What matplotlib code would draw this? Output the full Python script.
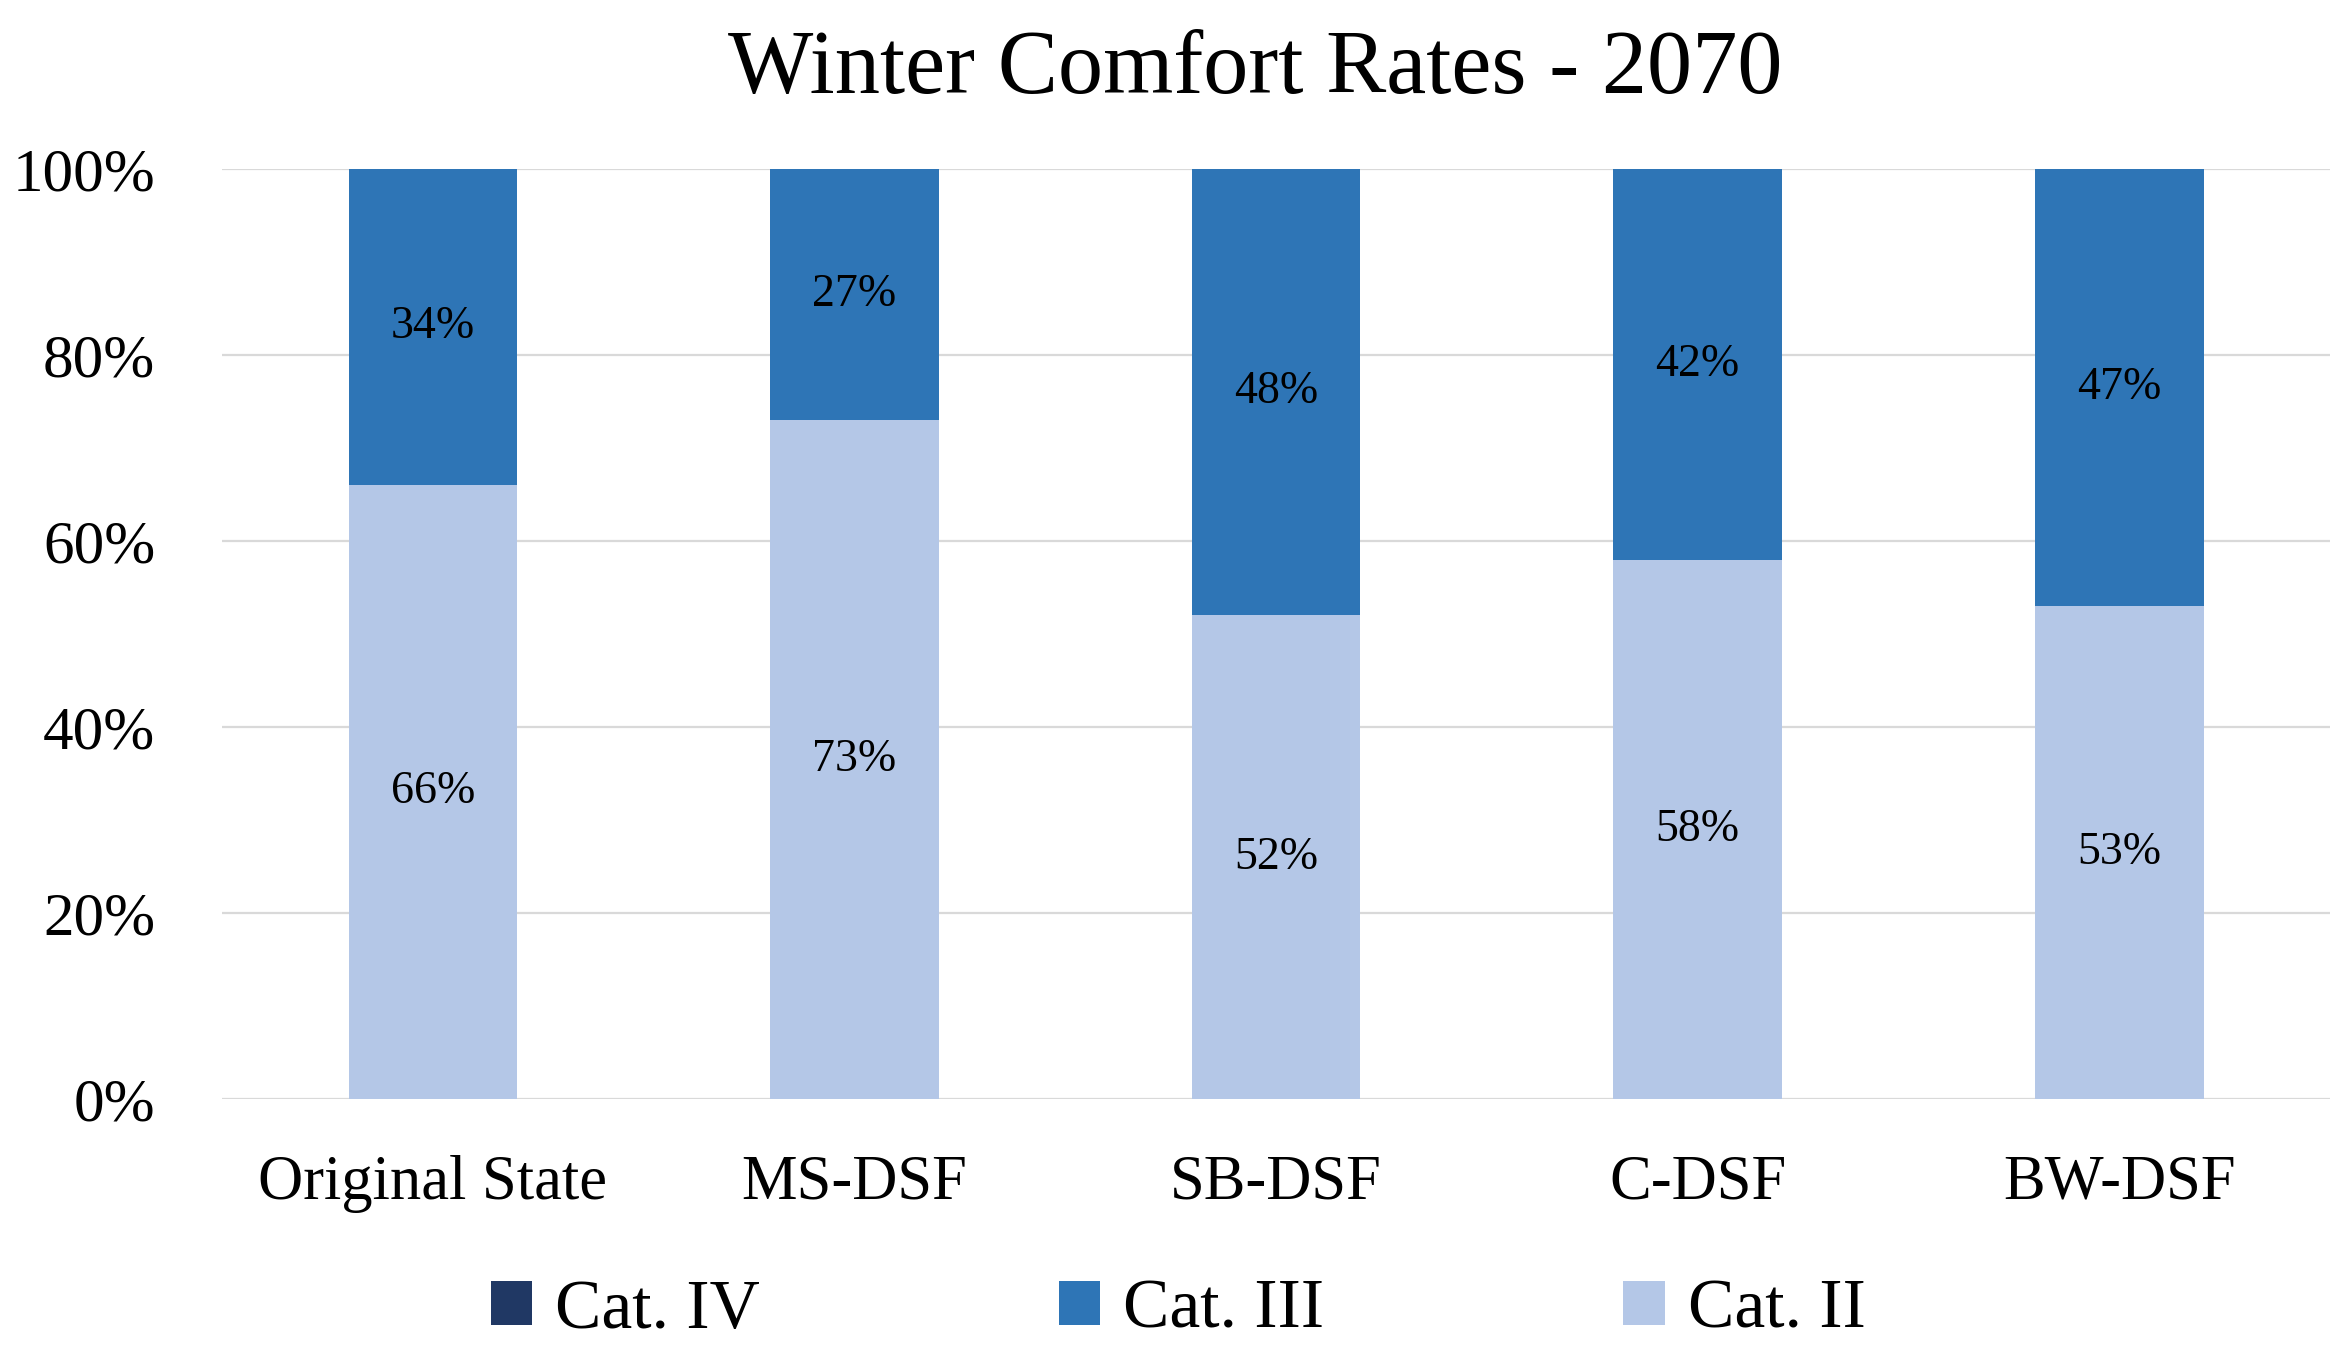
import numpy as np
import matplotlib.pyplot as plt
from matplotlib.patches import Patch

# Data
categories = ["Original State", "MS-DSF", "SB-DSF", "C-DSF", "BW-DSF"]
cat_iv = [0, 0, 0, 0, 0]
cat_iii = [34, 27, 48, 42, 47]
cat_ii = [66, 73, 52, 58, 53]

series_names = ["Cat. IV", "Cat. III", "Cat. II"]
colors = {"Cat. IV": "#203864", "Cat. III": "#2E75B6", "Cat. II": "#B4C7E7"}

plt.rcParams["font.family"] = ["Liberation Serif", "DejaVu Serif"]

fig = plt.figure(figsize=(23.42, 13.57), dpi=100)
ax = fig.add_axes([0.0948, 0.190, 0.9001, 0.6855])

x = np.arange(len(categories))
width = 0.4

# stacked: Cat. II at bottom, Cat. III on top
ax.bar(x, cat_ii, width, color=colors["Cat. II"], zorder=2)
ax.bar(x, cat_iii, width, bottom=cat_ii, color=colors["Cat. III"], zorder=2)
ax.bar(x, cat_iv, width, bottom=np.add(cat_ii, cat_iii), color=colors["Cat. IV"], zorder=2)

for i in range(len(categories)):
    ax.text(x[i], cat_ii[i] / 2, f"{cat_ii[i]}%", ha="center", va="center",
            fontsize=33, color="black", zorder=3)
    ax.text(x[i], cat_ii[i] + cat_iii[i] / 2, f"{cat_iii[i]}%", ha="center",
            va="center", fontsize=33, color="black", zorder=3)

ax.set_xlim(-0.5, len(categories) - 0.5)
ax.set_ylim(0, 100)
ax.set_yticks(np.arange(0, 101, 20))
ax.set_yticklabels([f"{v}%" for v in range(0, 101, 20)])
ax.set_xticks(x)
ax.set_xticklabels(categories)

ax.tick_params(axis="y", length=0, pad=48, labelsize=44)
ax.tick_params(axis="x", length=0, pad=40, labelsize=45)

ax.grid(axis="y", color="#D9D9D9", linewidth=1.6, zorder=0)
ax.set_axisbelow(True)
for s in ax.spines.values():
    s.set_visible(False)

fig.text(0.536, 0.948, "Winter Comfort Rates - 2070", ha="center", va="center",
         fontsize=65)

handles = [Patch(facecolor=colors[n], edgecolor="none") for n in series_names]
fig.legend(handles, series_names, loc="center", bbox_to_anchor=(0.503, 0.034),
           ncol=3, frameon=False, fontsize=50, handlelength=0.6, handleheight=0.6,
           handletextpad=0.33, columnspacing=4.3)

fig.savefig("out.png", dpi=100)
